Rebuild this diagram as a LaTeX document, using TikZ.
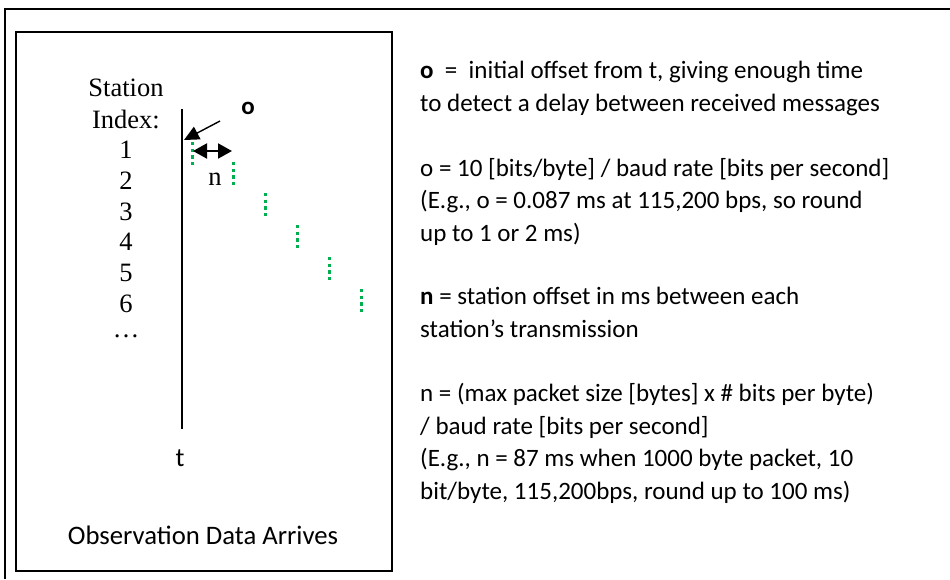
\documentclass[tikz,border=0pt]{standalone}
\usepackage{fontspec}
\setmainfont{Liberation Serif}
\newfontfamily\calibri{Carlito}
\usetikzlibrary{arrows.meta}
\definecolor{arrivegreen}{RGB}{0,176,80}
\tikzset{
  serif/.style={font=\fontsize{26.5}{30.5}\selectfont, inner sep=0pt},
  sans/.style={font=\calibri\fontsize{25}{32.4}\selectfont, inner sep=0pt},
  note/.style={sans, anchor=base west, align=left},
  frame/.style={line width=1.6pt},
  arrival/.style={arrivegreen, line width=3pt, dash pattern=on 3.3pt off 3.4pt},
  pointer/.style={line width=1.4pt, -{Triangle[length=15pt,width=14pt]}},
  span/.style={line width=2pt, {Triangle[length=14pt,width=15pt]}-{Triangle[length=14pt,width=15pt]}}
}
\begin{document}
\begin{tikzpicture}[x=1pt,y=-1pt]
\useasboundingbox (0,0) rectangle (950,579);
%outer and inner frames
\draw[frame] (5,579) -- (5,9) -- (950,9);
\draw[frame] (16,32) rectangle (392,571);
%station index column
\node[serif] (station) at (126,88) {Station};
\node[serif] (index) at (126,119) {Index:};
\foreach \i in {1,...,6}
  \node[serif] (s\i) at (126,{119+30.8*\i}) {\i};
\node[serif] (more) at (126,336) {\ldots};
%time axis
\coordinate (ttop) at (182,109);
\coordinate (tbot) at (182,429);
\draw[line width=1.8pt] (ttop) -- (tbot);
\node[sans, font=\calibri\fontsize{26.5}{30}\selectfont] (t) at (180,458) {t};
%arrival of each station
\foreach \x/\y [count=\k] in {192/142,233/162,265/193,297/225,329/257,361/289}{
  \coordinate (d\k) at (\x,\y);
  \draw[arrival] (d\k) -- ++(0,26);
}
%offsets o and n
\node[sans, font=\calibri\bfseries\fontsize{25}{30}\selectfont] (o) at (248,108) {o};
\coordinate (otail) at (220,121);
\coordinate (ohead) at (184,140);
\draw[pointer] (otail) -- (ohead);
\coordinate (nleft) at (193,151);
\coordinate (nright) at (232,151);
\draw[span] (nleft) -- (nright);
\node[serif] (n) at (215,179) {n};
\node[sans, font=\calibri\fontsize{26.7}{30}\selectfont] (caption) at (203,535) {Observation Data Arrives};
%explanations (base = last line)
\node[note] (odef) at (420,111)
  {\textbf{o}\ \ =\ \ initial offset from t, giving enough time\\to detect a delay between received messages};
\node[note] (oform) at (420,241)
  {o = 10 [bits/byte] / baud rate [bits per second]\\(E.g., o = 0.087 ms at 115,200 bps, so round\\up to 1 or 2 ms)};
\node[note] (ndef) at (420,337)
  {\textbf{n} = station offset in ms between each\\station’s transmission};
\node[note] (nform) at (420,499)
  {n = (max packet size [bytes] x \# bits per byte)\\/ baud rate [bits per second]\\(E.g., n = 87 ms when 1000 byte packet, 10\\bit/byte, 115,200bps, round up to 100 ms)};
\end{tikzpicture}
\end{document}
